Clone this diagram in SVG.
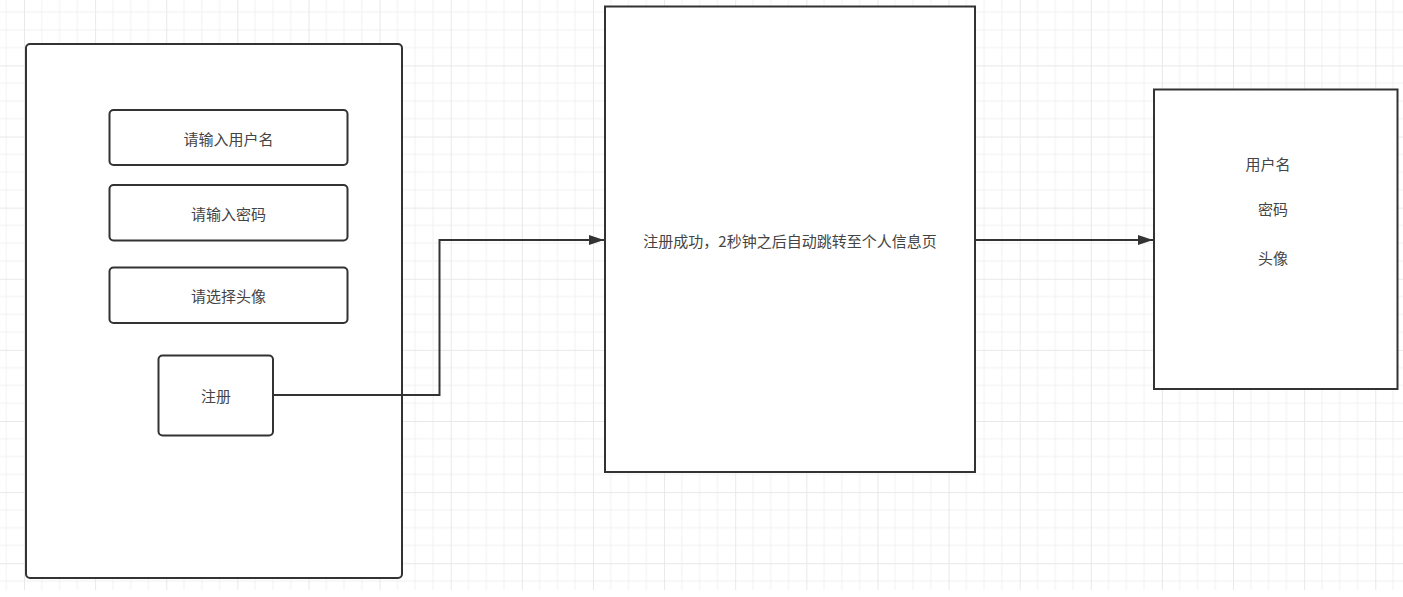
<svg xmlns="http://www.w3.org/2000/svg" width="1403" height="597" viewBox="0 0 1403 597">
<defs>
<pattern id="grid" x="24" y="65.4" width="71.12" height="71.12" patternUnits="userSpaceOnUse">
<path d="M17.78 0V71.12M35.56 0V71.12M53.34 0V71.12M0 17.78H71.12M0 35.56H71.12M0 53.34H71.12" stroke="#f1f1f1" stroke-width="1" fill="none"/>
<path d="M0.5 0V71.12M0 0.5H71.12" stroke="#e8e8e8" stroke-width="1" fill="none"/>
</pattern>
<marker id="arr" viewBox="0 0 15 10" refX="15" refY="5" markerWidth="15" markerHeight="10" markerUnits="userSpaceOnUse" orient="auto">
<path d="M0 0L15 5L0 10Z" fill="#333"/>
</marker>
</defs>
<style>
.box{fill:#fff;stroke:#333;stroke-width:2}
.t{font-family:"Noto Sans CJK SC","Noto Sans",sans-serif;font-size:15px;fill:#444;text-anchor:middle;dominant-baseline:central}
.c{fill:none;stroke:#333;stroke-width:2}
</style>
<rect width="1403" height="597" fill="#fff"/>
<rect x="0" y="0" width="1403" height="590" fill="url(#grid)"/>
<g id="form">
<rect class="box" x="26" y="44" width="376" height="534" rx="4"/>
</g>
<g id="username">
<rect class="box" x="109.5" y="110" width="238" height="55" rx="4"/>
<text class="t" x="228.5" y="138">请输入用户名</text>
</g>
<g id="password">
<rect class="box" x="109.5" y="185" width="238" height="55.5" rx="4"/>
<text class="t" x="228.5" y="213">请输入密码</text>
</g>
<g id="avatar">
<rect class="box" x="109.5" y="267.5" width="238" height="55.5" rx="4"/>
<text class="t" x="228.5" y="295">请选择头像</text>
</g>
<g id="register">
<rect class="box" x="158.5" y="355.5" width="114.5" height="80" rx="4"/>
<text class="t" x="216" y="395">注册</text>
</g>
<g id="success">
<rect class="box" x="605" y="6.5" width="370" height="465.5"/>
<text class="t" x="790" y="240">注册成功，2秒钟之后自动跳转至个人信息页</text>
</g>
<g id="profile">
<rect class="box" x="1154" y="89.5" width="243.5" height="299.5"/>
<text class="t" x="1268" y="163">用户名</text>
<text class="t" x="1273" y="208">密码</text>
<text class="t" x="1273" y="257">头像</text>
</g>
<g id="connectors">
<path class="c" d="M273 395H439.5V240H604" marker-end="url(#arr)"/>
<path class="c" d="M975 240H1153" marker-end="url(#arr)"/>
</g>
</svg>
